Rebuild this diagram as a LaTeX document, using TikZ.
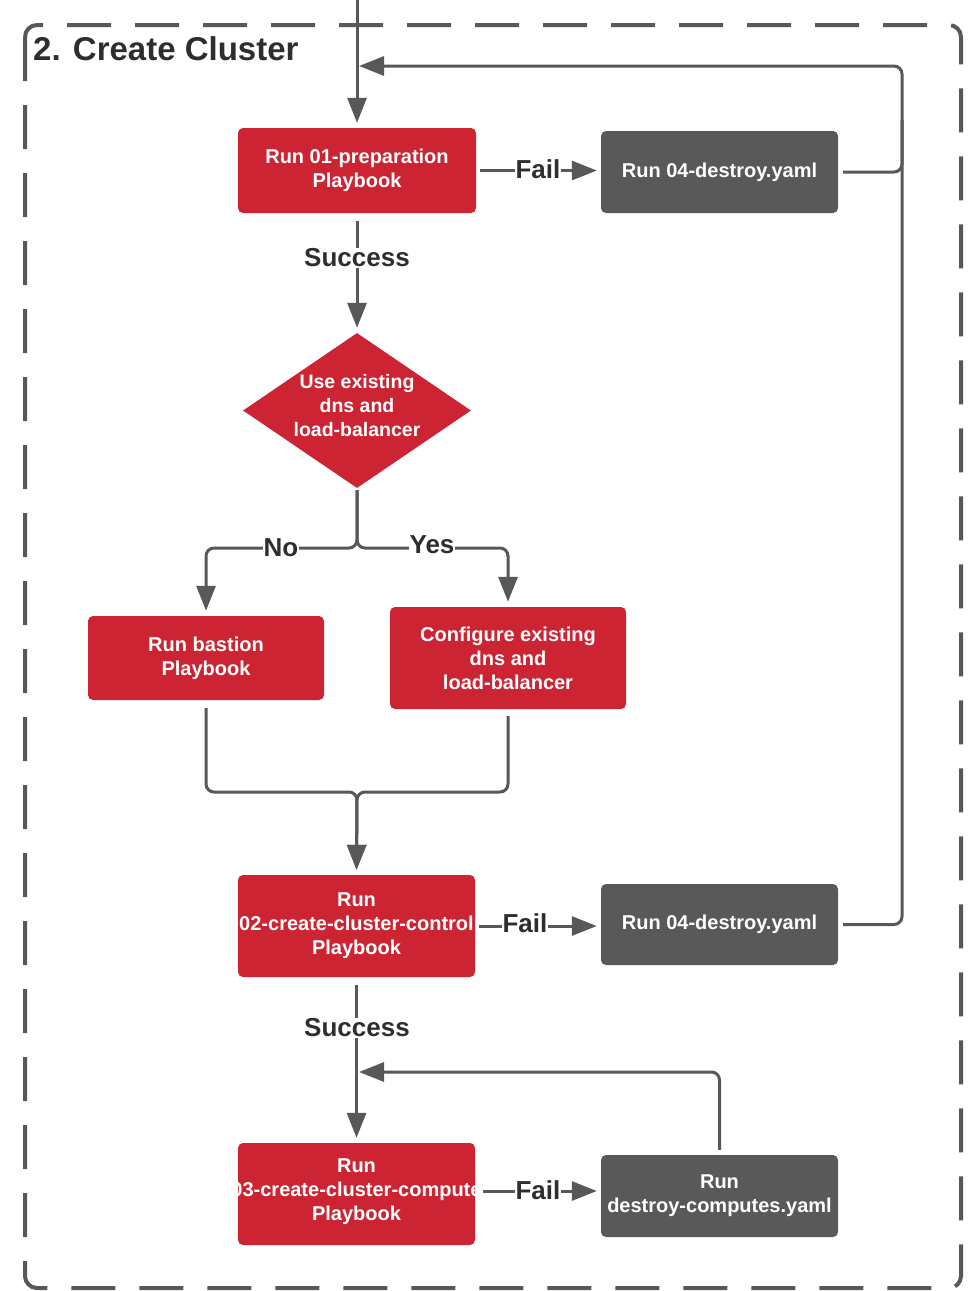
\documentclass[tikz,border=0pt]{standalone}
\usepackage{fontspec}
\setmainfont{Liberation Sans}
\usetikzlibrary{arrows.meta,shapes.geometric}
\definecolor{boxred}{RGB}{204,36,50}
\definecolor{boxgray}{RGB}{89,89,89}
\definecolor{linegray}{RGB}{88,88,88}
\definecolor{labelgray}{RGB}{46,46,46}
\begin{document}
\begin{tikzpicture}[x=1pt,y=-1pt,
  boxtext/.style={text=white, font=\bfseries\fontsize{20}{24}\selectfont, align=center, inner sep=0pt},
  redbox/.style={boxtext, fill=boxred, rounded corners=5pt},
  graybox/.style={boxtext, fill=boxgray, rounded corners=5pt},
  conn/.style={draw=linegray, line width=3pt, rounded corners=8pt, shorten <=6pt},
  arr/.style={conn, -{Triangle[length=25pt,width=19pt]}, shorten >=5pt},
  lbl/.style={fill=white, text=labelgray, font=\bfseries\fontsize{26}{30}\selectfont, inner sep=1pt},
  framestyle/.style={draw=linegray, line width=4pt, dash pattern=on 44pt off 24pt, rounded corners=12pt}
]
\useasboundingbox (0,0) rectangle (975,1291);
\fill[white] (0,0) rectangle (975,1291);

% frame
\draw[framestyle] (25,25) rectangle (961,1288);
\node[anchor=base west, inner sep=0pt, font=\bfseries\fontsize{33}{40}\selectfont, text=labelgray] (title) at (33,60) {2. Create Cluster};

% nodes
\node[redbox, minimum width=238pt, minimum height=85pt] (b1) at (357,170.5) {Run 01-preparation\\Playbook};
\node[graybox, minimum width=237pt, minimum height=82pt] (d1) at (719.5,172) {Run 04-destroy.yaml};
\node[diamond, fill=boxred, minimum width=228pt, minimum height=155pt, inner sep=0pt] (dia) at (357,410.5) {};
\node[boxtext, font=\bfseries\fontsize{19.5}{24}\selectfont] (diat) at (357,406) {Use existing\\dns and\\load-balancer};
\node[redbox, minimum width=236pt, minimum height=84pt] (bast) at (206,658) {Run bastion\\Playbook};
\node[redbox, minimum width=236pt, minimum height=102pt] (conf) at (508,658) {Configure existing\\dns and\\load-balancer};
\node[redbox, minimum width=237pt, minimum height=102pt] (b2) at (356.5,926) {Run\\02-create-cluster-control\\Playbook};
\node[graybox, minimum width=237pt, minimum height=81pt] (d2) at (719.5,924.5) {Run 04-destroy.yaml};
\node[redbox, minimum width=237pt, minimum height=102pt] (b3) at (356.5,1194) {};
\begin{scope}
  \clip (233,1143) rectangle (479,1245);
  \node[boxtext] (b3t) at (356.5,1192) {Run\\03-create-cluster-compute\\Playbook};
\end{scope}
\node[graybox, minimum width=237pt, minimum height=82pt] (d3) at (719.5,1196) {Run\\destroy-computes.yaml};

% coordinates
\coordinate (top) at (357,0);
\coordinate (lpin) at (359,66);
\coordinate (lpr) at (902,66);
\coordinate (jn) at (357,548);
\coordinate (jl) at (206,548);
\coordinate (jr) at (508,548);
\coordinate (mg) at (357,792);
\coordinate (lpin3) at (359,1072);

% connectors
\draw[arr, shorten <=0pt] (top) -- (b1.north);
\draw[arr, shorten <=4pt, shorten >=4pt] (b1.east) -- (d1.west |- b1.east);
\draw[arr, shorten <=5pt, shorten >=0pt] (d1.east) -- (lpr |- d1.east) -- (lpr) -- (lpin);
\draw[conn, shorten <=5pt] (d2.east) -- (lpr |- d2.east) -- (902,120);
\draw[arr, shorten <=8pt] (b1.south) -- (dia.north);
\draw[arr, shorten <=2pt] (dia.south) -- (jn) -- (jl) -- (bast.north);
\draw[arr, shorten <=2pt] (dia.south) -- (jn) -- (jr) -- (conf.north);
\draw[arr, shorten <=8pt] (bast.south) -- (bast.south |- mg) -- (mg) -- (b2.north);
\draw[arr, shorten <=7pt] (conf.south) -- (conf.south |- mg) -- (mg) -- (b2.north);
\draw[arr, shorten <=4pt, shorten >=4pt] (b2.east) -- (d2.west |- b2.east);
\draw[arr, shorten <=8pt] (b2.south) -- (b3.north);
\draw[arr, shorten <=4pt, shorten >=4pt] (479,1191) -- (d3.west |- 479,1191);
\draw[arr, shorten <=5pt, shorten >=0pt] (d3.north) -- (d3.north |- lpin3) -- (lpin3);

% labels
\node[lbl] (f1) at (538,169) {Fail};
\node[lbl] (s1) at (357,258) {Success};
\node[lbl] (no) at (281,548) {No};
\node[lbl] (yes) at (432,545) {Yes};
\node[lbl] (f2) at (525,923) {Fail};
\node[lbl] (s2) at (357,1028) {Success};
\node[lbl] (f3) at (538,1190) {Fail};
\end{tikzpicture}
\end{document}
